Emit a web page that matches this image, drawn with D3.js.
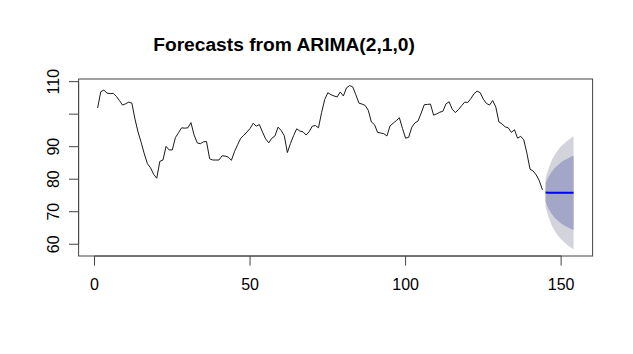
<!DOCTYPE html>
<html>
<head>
<meta charset="utf-8">
<script src="https://cdn.jsdelivr.net/npm/d3@7"></script>
<style>
  body { margin: 0; background: #fff; }
  svg { display: block; }
</style>
</head>
<body>
<div id="chart"></div>
<script>
// observed series, t = 1..144
var series = [
  101.9, 106.9, 107.4, 106.5, 106.3, 106.4, 105.5, 104.2, 102.8, 103.2,
  103.7, 103.4, 98.5, 94.5, 91.3, 87.8, 84.8, 83.5, 81.5, 80.3,
  85.5, 85.9, 90.1, 89.0, 89.0, 92.8, 94.3, 95.8, 95.7, 95.8,
  97.4, 93.6, 91.2, 90.9, 91.5, 91.6, 86.3, 85.9, 85.9, 85.9,
  87.2, 87.1, 86.8, 85.8, 88.5, 90.6, 92.6, 93.5, 94.5, 95.6,
  97.2, 96.3, 96.8, 94.5, 92.4, 91.2, 92.6, 93.3, 96.0, 95.0,
  93.4, 88.2, 91.0, 93.4, 95.5, 94.8, 94.6, 93.6, 94.6, 96.3,
  96.5, 95.8, 100.5, 104.5, 106.6, 106.0, 105.6, 105.3, 106.8, 105.6,
  108.1, 108.8, 108.4, 106.0, 103.4, 103.1, 102.7, 101.2, 97.6, 96.8,
  94.4, 94.2, 94.0, 93.3, 96.4, 97.2, 98.0, 98.9, 95.6, 92.6,
  92.9, 96.0, 97.3, 97.9, 100.3, 102.9, 103.0, 103.1, 99.7, 100.1,
  100.6, 100.9, 103.2, 103.8, 101.5, 100.5, 101.4, 102.6, 103.7, 103.6,
  104.8, 106.3, 107.1, 106.6, 104.6, 103.3, 102.8, 104.2, 102.2, 97.6,
  97.0, 96.1, 95.8, 94.4, 95.2, 92.6, 93.2, 92.1, 88.0, 83.1,
  82.5, 81.3, 79.5, 76.7
];

// forecasts, t = 145..154
var fcMean  = [75.9, 75.8, 75.8, 75.8, 75.8, 75.8, 75.8, 75.8, 75.8, 75.8];
var lo80    = [73.0, 70.8, 69.3, 68.1, 67.2, 66.4, 65.8, 65.3, 64.8, 64.4];
var hi80    = [78.8, 80.8, 82.3, 83.5, 84.4, 85.2, 85.8, 86.3, 86.8, 87.2];
var lo95    = [71.5, 68.2, 65.8, 64.0, 62.6, 61.5, 60.6, 59.8, 59.1, 58.4];
var hi95    = [80.3, 83.4, 85.8, 87.6, 89.0, 90.1, 91.0, 91.8, 92.5, 93.2];

var xTicks = [0, 50, 100, 150];
var yTicks = [60, 70, 80, 90, 100, 110];
var yLabels = ['60', '70', '80', '90', '', '110'];  // 100 is dropped (overlap)
var title = 'Forecasts from ARIMA(2,1,0)';

var W = 633, H = 354;
var box = { left: 78.6, right: 592.6, top: 79, bottom: 256 };
var line = 19.2;  // one margin line in px

var svg = d3.select('#chart').append('svg')
  .attr('width', W).attr('height', H);

var obs = series.map(function(v, i) { return { t: i + 1, v: v }; });
var fc = fcMean.map(function(v, i) {
  return { t: series.length + 1 + i, v: v, lo80: lo80[i], hi80: hi80[i], lo95: lo95[i], hi95: hi95[i] };
});

// R style 4% axis extension
function extend(ext) {
  var d = (ext[1] - ext[0]) * 0.04;
  return [ext[0] - d, ext[1] + d];
}
var xExt = [1, fc[fc.length - 1].t];
var yExt = [d3.min(lo95), d3.max(series.concat(hi95))];

var x = d3.scaleLinear().domain(extend(xExt)).range([box.left, box.right]);
var y = d3.scaleLinear().domain(extend(yExt)).range([box.bottom, box.top]);

// prediction intervals
var band = function(lo, hi) {
  return d3.area().x(function(d) { return x(d.t); })
    .y0(function(d) { return y(d[lo]); })
    .y1(function(d) { return y(d[hi]); });
};
svg.append('path').datum(fc).attr('d', band('lo95', 'hi95')(fc)).attr('fill', '#D3D3DB');
svg.append('path').datum(fc).attr('d', band('lo80', 'hi80')(fc)).attr('fill', '#A4A6C8');

// observed line
svg.append('path').datum(obs)
  .attr('d', d3.line().x(function(d) { return x(d.t); }).y(function(d) { return y(d.v); }))
  .attr('fill', 'none').attr('stroke', '#1a1a1a').attr('stroke-width', 1);

// point forecast
svg.append('path').datum(fc)
  .attr('d', d3.line().x(function(d) { return x(d.t); }).y(function(d) { return y(d.v); }))
  .attr('fill', 'none').attr('stroke', '#0000FF').attr('stroke-width', 2);

// plot box
svg.append('rect')
  .attr('x', box.left).attr('y', box.top)
  .attr('width', box.right - box.left).attr('height', box.bottom - box.top)
  .attr('fill', 'none').attr('stroke', '#444').attr('stroke-width', 1);

var font = '"Liberation Sans", Arial, Helvetica, sans-serif';
var tick = line * 0.5;

// x axis
var gx = svg.append('g');
gx.append('line')
  .attr('x1', x(xTicks[0])).attr('x2', x(xTicks[xTicks.length - 1]))
  .attr('y1', box.bottom).attr('y2', box.bottom)
  .attr('stroke', '#444');
xTicks.forEach(function(t) {
  gx.append('line')
    .attr('x1', x(t)).attr('x2', x(t))
    .attr('y1', box.bottom).attr('y2', box.bottom + tick)
    .attr('stroke', '#444');
  gx.append('text')
    .attr('x', x(t)).attr('y', box.bottom + line + 15)
    .attr('text-anchor', 'middle')
    .style('font-family', font).style('font-size', '16px')
    .text(t);
});

// y axis
var gy = svg.append('g');
gy.append('line')
  .attr('x1', box.left).attr('x2', box.left)
  .attr('y1', y(yTicks[0])).attr('y2', y(yTicks[yTicks.length - 1]))
  .attr('stroke', '#444');
yTicks.forEach(function(t, i) {
  gy.append('line')
    .attr('x1', box.left - tick).attr('x2', box.left)
    .attr('y1', y(t)).attr('y2', y(t))
    .attr('stroke', '#444');
  if (yLabels[i]) {
    var lx = box.left - line, ly = y(t);
    gy.append('text')
      .attr('transform', 'translate(' + lx + ',' + ly + ') rotate(-90)')
      .attr('text-anchor', 'middle')
      .style('font-family', font).style('font-size', '16px')
      .text(yLabels[i]);
  }
});

// title
svg.append('text')
  .attr('x', 284).attr('y', 51)
  .attr('text-anchor', 'middle')
  .style('font-family', font).style('font-size', '19.2px').style('font-weight', 'bold')
  .text(title);
</script>
</body>
</html>
